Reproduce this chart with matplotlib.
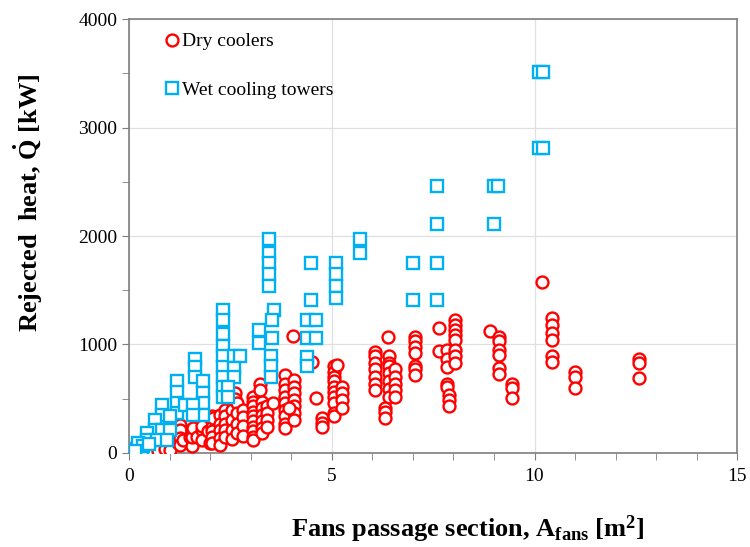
import numpy as np
import matplotlib
matplotlib.use("Agg")
import matplotlib.pyplot as plt
from matplotlib.ticker import MultipleLocator

plt.rcParams['font.family'] = ['Liberation Serif', 'DejaVu Serif']
plt.rcParams['mathtext.fontset'] = 'custom'
plt.rcParams['mathtext.rm'] = 'Liberation Serif'
plt.rcParams['mathtext.bf'] = 'Liberation Serif:bold'
plt.rcParams['mathtext.it'] = 'Liberation Serif:italic'

# dry coolers: fan passage section [m2] and rejected heat [kW], column by column
dry_x = [0.1, 0.2, 0.3, 0.4, 0.56, 0.72, 0.89, 1.05, 1.01, 1.01, 1.22,
         1.26, 1.26, 1.26, 1.26, 1.34, 1.51, 1.55, 1.55, 1.55, 1.59, 1.67,
         1.79, 1.79, 1.79, 1.79, 1.96, 2.0,
         2.04, 2.04, 2.04, 2.04, 2.04, 2.04, 2.08,
         2.25, 2.25, 2.25, 2.25, 2.25,
         2.37, 2.37, 2.37, 2.37, 2.37,
         2.54, 2.54, 2.54, 2.54, 2.62, 2.62,
         2.66, 2.66, 2.66, 2.66, 2.82, 2.82, 2.82, 2.82,
         3.07, 3.07, 3.07, 3.07, 3.07, 3.07, 3.07, 3.07, 3.07, 3.07,
         3.23, 3.23,
         3.27, 3.27, 3.27, 3.27, 3.27, 3.27,
         3.4, 3.4, 3.4, 3.4, 3.56,
         3.85, 3.85, 3.85, 3.85, 3.85, 3.85, 3.85, 3.85, 3.85,
         4.06, 4.06, 4.06, 4.06, 4.06, 4.06, 4.06, 3.95, 4.04,
         4.51, 4.62, 4.76, 4.76, 4.76,
         5.05, 5.05, 5.05, 5.05, 5.05, 5.05, 5.05, 5.05, 5.05, 5.05, 5.14,
         5.25, 5.25, 5.25, 5.25,
         6.07, 6.07, 6.07, 6.07, 6.07, 6.07, 6.07,
         6.39, 6.4, 6.4, 6.4, 6.4, 6.4, 6.4, 6.4,
         6.32, 6.32, 6.32,
         6.57, 6.57, 6.57, 6.57, 6.57,
         7.06, 7.06, 7.06, 7.06, 7.06, 7.06, 7.06,
         7.65, 7.65, 7.84, 7.84, 7.84, 7.84, 7.84, 7.89, 7.89, 7.89,
         8.05, 8.05, 8.05, 8.05, 8.05, 8.05, 8.05, 8.05,
         8.91, 9.12, 9.12, 9.12, 9.12, 9.12, 9.12,
         9.45, 9.45, 9.45, 10.19,
         10.44, 10.44, 10.44, 10.44, 10.44, 10.44,
         11.01, 11.01, 11.01, 12.58, 12.58, 12.58]
dry_y = [0, 0, 0, 0, 0, 20, 40, 60, 100, 30, 90,
         260, 210, 140, 70, 120, 150, 60, 220, 150, 230, 150,
         210, 300, 120, 250, 200, 90,
         340, 290, 240, 200, 150, 90, 320,
         350, 270, 210, 140, 70,
         400, 340, 270, 210, 150,
         400, 300, 210, 130, 550, 500,
         460, 370, 270, 180, 400, 330, 250, 160,
         520, 470, 430, 380, 340, 290, 240, 200, 150, 120,
         640, 580,
         470, 410, 350, 290, 230, 180,
         430, 370, 300, 240, 460,
         720, 640, 580, 520, 460, 400, 340, 270, 230,
         670, 610, 550, 490, 430, 370, 300, 410, 1080,
         840, 510, 320, 280, 240,
         800, 750, 700, 660, 610, 560, 520, 460, 370, 340, 810,
         610, 550, 490, 410,
         930, 890, 830, 770, 700, 640, 580,
         1070, 890, 830, 800, 740, 660, 590, 520,
         410, 380, 320,
         770, 700, 640, 580, 520,
         1070, 1030, 980, 920, 800, 770, 720,
         1150, 940, 950, 870, 790, 640, 610, 530, 490, 430,
         1230, 1180, 1130, 1090, 1040, 950, 890, 830,
         1120, 1070, 1030, 950, 900, 780, 730,
         640, 600, 510, 1580,
         1240, 1180, 1110, 1040, 890, 840,
         750, 700, 600, 870, 830, 690]

# wet cooling towers
wet_x = [10.1, 10.2, 10.1, 10.2, 9.0, 9.1, 9.0,
         7.6, 7.6, 7.6, 7.6, 7.0, 7.0, 5.7, 5.7,
         5.1, 5.1, 5.1, 5.1,
         4.5, 4.5, 4.4, 4.6, 4.4, 4.6, 4.4, 4.4,
         3.45, 3.45, 3.45, 3.45, 3.45, 3.58, 3.52, 3.52, 3.5, 3.5, 3.5,
         3.2, 3.2,
         2.31, 2.31, 2.31, 2.31, 2.31, 2.31, 2.31, 2.31, 2.31,
         2.58, 2.74, 2.58, 2.58, 2.45, 2.45,
         1.63, 1.63, 1.63, 1.82, 1.82, 1.82, 1.82,
         1.19, 1.19, 1.19, 1.19,
         0.81, 0.81, 1.38, 1.59, 1.59,
         0.64, 0.64, 0.81, 1.01, 1.01,
         0.44, 0.44, 0.68, 0.93,
         0.2, 0.31, 0.22, 0.35, 0.5, 0.15]
wet_y = [3510, 3510, 2810, 2810, 2460, 2460, 2110,
         2460, 2110, 1750, 1410, 1750, 1410, 1970, 1840,
         1750, 1650, 1540, 1430,
         1750, 1410, 1230, 1230, 1060, 1060, 880, 800,
         1970, 1840, 1750, 1650, 1540, 1320, 1230, 1060, 890, 800, 700,
         1130, 1010,
         1320, 1230, 1100, 990, 890, 790, 700, 610, 520,
         890, 890, 780, 700, 610, 520,
         870, 790, 700, 660, 550, 460, 350,
         660, 560, 460, 370,
         440, 350, 440, 440, 350,
         300, 210, 210, 340, 210,
         180, 120, 120, 120,
         40, 40, 90, 60, 80, 20]

fig = plt.figure(figsize=(7.5, 5.47), dpi=100)
ax = fig.add_axes([0.172, 0.172, 0.811, 0.793])

ax.plot(dry_x, dry_y, 'o', ms=8.6, mfc='white', mec='#FF0000', mew=1.7,
        ls='none', label='Dry coolers', zorder=3)
ax.plot(wet_x, wet_y, 's', ms=8, mfc='white', mec='#00B0F0', mew=1.7,
        ls='none', label='Wet cooling towers', zorder=4)

ax.set_xlim(0, 15)
ax.set_ylim(0, 4000)
ax.xaxis.set_major_locator(MultipleLocator(5))
ax.xaxis.set_minor_locator(MultipleLocator(1))
ax.yaxis.set_major_locator(MultipleLocator(1000))
ax.yaxis.set_minor_locator(MultipleLocator(500))
ax.tick_params(which='both', direction='out', top=False, right=False,
               color='#7f7f7f', labelsize=14)
ax.tick_params(axis='x', which='major', pad=6)
ax.tick_params(which='both', length=5)
for lab in ax.get_xticklabels() + ax.get_yticklabels():
    lab.set_family('Liberation Serif')
ax.grid(True, which='major', color='#e0e0e0', lw=0.9, zorder=0)
ax.set_axisbelow(True)
for s in ax.spines.values():
    s.set_color('#7f7f7f')
    s.set_linewidth(1.2)

ax.set_xlabel(r'Fans passage section, $\mathbf{A_{fans}}$ [m$\mathbf{^{2}}$]',
              fontsize=19, fontweight='bold', va='center')
ax.set_ylabel(r'Rejected  heat, $\mathbf{\dot{Q}}$ [kW]',
              fontsize=19, fontweight='bold', va='center')
ax.xaxis.set_label_coords(0.557, -0.177)
ax.yaxis.set_label_coords(-0.166, 0.578)

ax.legend(loc='upper left', frameon=False, handletextpad=0.0,
          labelspacing=1.6, borderaxespad=0.3, bbox_to_anchor=(0.033, 1.0),
          handlelength=1.0, prop={'family': 'Liberation Serif', 'size': 14})

fig.savefig('out.png', dpi=100)
